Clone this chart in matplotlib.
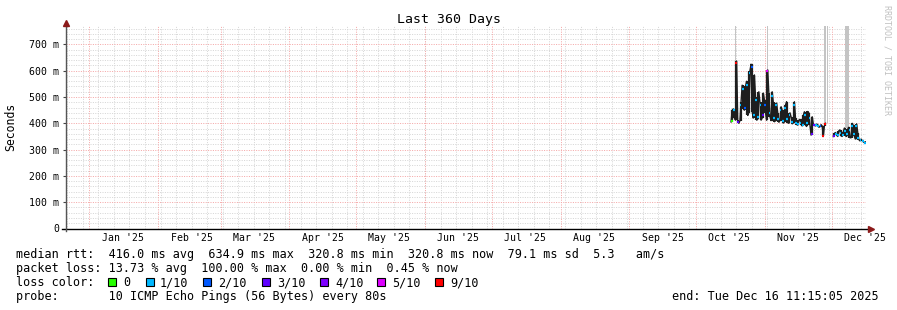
import numpy as np
import matplotlib
matplotlib.use("Agg")
import matplotlib.pyplot as plt
import matplotlib.dates as mdates
from matplotlib.patches import Rectangle
from matplotlib.lines import Line2D
from datetime import datetime, timedelta

plt.rcParams['font.family'] = ['DejaVu Sans Mono', 'DejaVu Sans']

# ---------------- data ----------------
end_time = datetime(2025, 12, 16, 11, 15, 5)
start_time = end_time - timedelta(days=360)
data_start = datetime(2025, 10, 17)

# daily median-rtt envelope (ms)
rtt_low = [405, 420, 412, 400, 410, 455, 450, 430, 440, 444, 420, 412, 415, 412, 420, 440,
           412, 425, 410, 406, 410, 404, 410, 401, 405, 402, 400, 398, 401, 395, 393, 395,
           390, 393, 388, 393, 355, 392, 390, 385, 387, 350, 390, np.nan, np.nan, np.nan,
           350, 355, 350, 352, 350, 352, 350, 345, 345, 350, 340, 338, 333, 330, 326, 320]
rtt_high = [450, 455, 637, 412, 482, 545, 540, 560, 600, 625, 584, 500, 520, 480, 515, 490,
            603, 515, 520, 480, 477, 440, 463, 450, 470, 482, 440, 425, 482, 420, 412, 415,
            430, 444, 445, 440, 425, 398, 397, 395, 395, 390, 400, np.nan, np.nan, np.nan,
            362, 365, 372, 375, 368, 382, 378, 385, 400, 392, 398, 365, 340, 334, 330, 324]
rtt_median = [410, 450, 630, 406, 470, 530, 460, 545, 590, 615, 430, 490, 425, 470, 430, 470,
              600, 440, 505, 420, 470, 415, 450, 410, 460, 415, 430, 405, 470, 400, 398, 400,
              395, 430, 400, 420, 360, 395, 393, 388, 390, 352, 397, np.nan, np.nan, np.nan,
              352, 360, 355, 365, 355, 370, 360, 375, 390, 360, 390, 345, 335, 331, 327, 321]
loss_tenths = [0, 1, 9, 3, 1, 1, 2, 1, 1, 2, 1, 1, 1, 1, 3, 2,
               5, 1, 1, 1, 1, 1, 1, 1, 1, 1, 1, 1, 1, 1, 1, 1,
               1, 1, 1, 1, 3, 3, 1, 1, 2, 9, 9, 0, 0, 0,
               3, 1, 1, 1, 1, 1, 1, 1, 1, 1, 1, 1, 1, 1, 1, 1]

# gray smoke reaching off the top of the chart
spike_day = [1.8, 16, 42, 43, 52]
spike_width = [0.6, 0.6, 0.5, 0.5, 2.0]
spike_base = [637, 603, 400, 400, 382]

loss_labels = ["0", "1/10", "2/10", "3/10", "4/10", "5/10", "9/10"]
loss_colors = ["#26ff00", "#00b8ff", "#0059ff", "#5e00ff", "#7e00ff", "#dd00ff", "#ff0000"]
loss_color_of = {0: "#26ff00", 1: "#00b8ff", 2: "#0059ff", 3: "#5e00ff",
                 4: "#7e00ff", 5: "#dd00ff", 9: "#ff0000"}

y_ticks = [0, 100, 200, 300, 400, 500, 600, 700]
y_tick_labels = ["0", "100 m", "200 m", "300 m", "400 m", "500 m", "600 m", "700 m"]
month_labels = ["Jan '25", "Feb '25", "Mar '25", "Apr '25", "May '25", "Jun '25",
                "Jul '25", "Aug '25", "Sep '25", "Oct '25", "Nov '25", "Dec '25"]

legend_lines = [
    "median rtt:  416.0 ms avg  634.9 ms max  320.8 ms min  320.8 ms now  79.1 ms sd  5.3   am/s",
    "packet loss: 13.73 % avg  100.00 % max  0.00 % min  0.45 % now",
    "loss color:",
    "probe:       10 ICMP Echo Pings (56 Bytes) every 80s",
]

# ---------------- figure ----------------
W, H = 897, 310
fig = plt.figure(figsize=(W / 100, H / 100), dpi=100)
fig.patch.set_facecolor("white")
ax_left, ax_right, ax_bottom, ax_top = 66, 866, 228.5, 26
ax = fig.add_axes([ax_left / W, (H - ax_bottom) / H,
                   (ax_right - ax_left) / W, (ax_bottom - ax_top) / H])
ax.set_facecolor("white")

x0 = mdates.date2num(start_time)
x1 = mdates.date2num(end_time)
ax.set_xlim(x0, x1)
ymax = 770
ax.set_ylim(0, ymax)

# grid
dot = (0, (1.0, 1.4))
gcol, rcol = "#d6d6d6", "#f5a8a8"
for v in range(20, ymax, 20):
    ax.axhline(v, color=rcol if v % 100 == 0 else gcol, lw=0.72, ls=dot,
               zorder=0.5 if v % 100 == 0 else 0)
d = datetime(2024, 12, 22)
while d < end_time:
    if d.weekday() == 6:
        ax.axvline(mdates.date2num(d), color=gcol, lw=0.72, ls=dot, zorder=0)
    d += timedelta(days=1)
for m in range(1, 13):
    ax.axvline(mdates.date2num(datetime(2025, m, 1)), color=rcol, lw=0.72, ls=dot, zorder=0.5)

# data
n = len(rtt_low)
xs = np.array([mdates.date2num(data_start + timedelta(days=i)) for i in range(n)])
lo = np.array(rtt_low, dtype=float)
hi = np.array(rtt_high, dtype=float)
med = np.array(rtt_median, dtype=float)

for sd, sw, sb in zip(spike_day, spike_width, spike_base):
    ax.bar(mdates.date2num(data_start + timedelta(days=sd)), ymax + 50 - sb, bottom=sb,
           width=sw, color="#c4c4c4", lw=0, zorder=1)

valid = ~np.isnan(lo)
ax.vlines(xs[valid], lo[valid], hi[valid], colors="#1e1e1e", lw=1.6, zorder=2)
# zigzag connecting line between consecutive envelope extremes
zz_x, zz_y = [], []
for i in range(n):
    if not valid[i]:
        zz_x.append(np.nan); zz_y.append(np.nan)
        continue
    zz_x += [xs[i] - 0.25, xs[i] + 0.25]
    zz_y += [lo[i], hi[i]] if i % 2 == 0 else [hi[i], lo[i]]
ax.plot(zz_x, zz_y, color="#1e1e1e", lw=1.0, zorder=2)
for i in range(n):
    if np.isnan(med[i]):
        continue
    c = loss_color_of[loss_tenths[i]]
    ax.hlines(med[i], xs[i] - 0.4, xs[i] + 0.4, colors=c, lw=1.6, zorder=3)

# axes styling
for s in ax.spines.values():
    s.set_visible(False)
ax.set_yticks(y_ticks)
ax.set_yticklabels(y_tick_labels, fontsize=7.1)
ax.tick_params(axis="y", length=2.5, width=0.8, color="#444444", pad=2.5)
mid_months = [mdates.date2num(datetime(2025, m, 16)) for m in range(1, 13)]
ax.set_xticks(mid_months)
ax.set_xticklabels(month_labels, fontsize=7.1)
ax.tick_params(axis="x", length=0, pad=3.3)

# axis lines with arrows
ax.add_line(Line2D([-0.005, 1.004], [0, 0], transform=ax.transAxes, color="#000000",
                   lw=1.0, clip_on=False, zorder=5))
ax.add_line(Line2D([0, 0], [-0.012, 1.012], transform=ax.transAxes, color="#555555",
                   lw=1.0, clip_on=False, zorder=5))
ax.plot([1.006], [0], marker=">", ms=4, color="#8b1a1a", transform=ax.transAxes, clip_on=False, zorder=6)
ax.plot([0], [1.016], marker="^", ms=4, color="#8b1a1a", transform=ax.transAxes, clip_on=False, zorder=6)

# texts
fig.text(0.5, 1 - 19 / H, "Last 360 Days", ha="center", va="center", fontsize=9.5)
fig.text(11 / W, 1 - 127 / H, "Seconds", rotation=90, ha="center", va="center", fontsize=8.3)
fig.text(887 / W, 1 - 60 / H, "RRDTOOL / TOBI OETIKER", rotation=270, ha="center", va="center",
         fontsize=6, color="#c0c0c0")

row_y = [254.5, 268.5, 282.5, 296.5]
for txt, ry in zip(legend_lines, row_y):
    fig.text(16 / W, 1 - ry / H, txt, ha="left", va="center", fontsize=8.5)

box_x = [108, 146, 203, 262, 320, 377, 435]
lab_x = [123, 160, 218, 277, 335, 392, 450]
for bx, lx, col, lab in zip(box_x, lab_x, loss_colors, loss_labels):
    fig.add_artist(Rectangle((bx / W, (H - 282 - 4) / H), 8 / W, 8 / H, transform=fig.transFigure,
                             facecolor=col, edgecolor="black", lw=0.8))
    fig.text(lx / W, 1 - 282.5 / H, lab, ha="left", va="center", fontsize=8.5)

fig.text(879 / W, 1 - 296.5 / H, "end: Tue Dec 16 11:15:05 2025", ha="right", va="center", fontsize=8.5)

fig.savefig("out.png", dpi=100)
